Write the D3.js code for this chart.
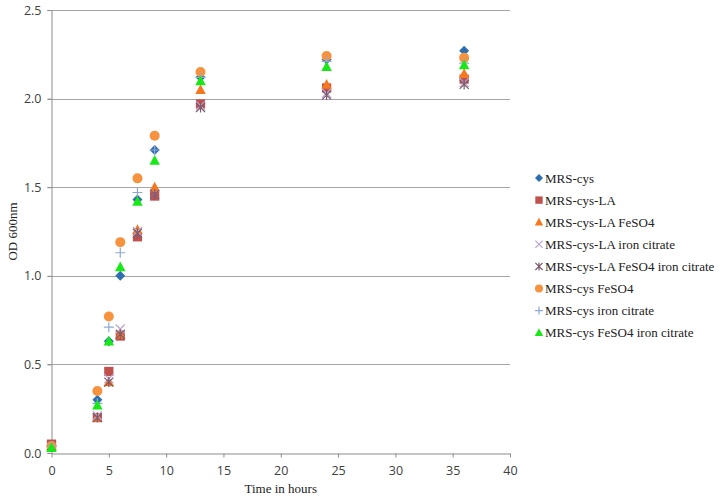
<!DOCTYPE html>
<html lang="en">
<head>
<meta charset="utf-8"/>
<script src="https://d3js.org/d3.v7.min.js"></script>
<style>
  body { margin: 0; background: #fff; }
</style>
</head>
<body>
<script>
    // Sampling times (hours)
    var hours = [0, 4, 5, 6, 7.5, 9, 13, 24, 36];

    // OD 600nm per medium
    var mrsCys              = [0.04, 0.30, 0.63, 1.00, 1.43, 1.71, 2.12, 2.22, 2.27];
    var mrsCysLA            = [0.05, 0.20, 0.46, 0.66, 1.22, 1.45, 1.97, 2.06, 2.11];
    var mrsCysLAFeSO4       = [0.04, 0.20, 0.40, 0.67, 1.26, 1.50, 2.05, 2.08, 2.14];
    var mrsCysLAIron        = [0.04, 0.21, 0.42, 0.70, 1.25, 1.46, 1.96, 2.03, 2.09];
    var mrsCysLAFeSO4Iron   = [0.04, 0.20, 0.40, 0.67, 1.24, 1.46, 1.95, 2.02, 2.08];
    var mrsCysFeSO4         = [0.04, 0.35, 0.77, 1.19, 1.55, 1.79, 2.15, 2.24, 2.23];
    var mrsCysIron          = [0.04, 0.28, 0.71, 1.13, 1.47, 1.71, 2.12, 2.21, 2.20];
    var mrsCysFeSO4Iron     = [0.03, 0.27, 0.63, 1.05, 1.42, 1.65, 2.10, 2.18, 2.19];

    var seriesNames = ["MRS-cys", "MRS-cys-LA", "MRS-cys-LA FeSO4", "MRS-cys-LA iron citrate",
        "MRS-cys-LA FeSO4 iron citrate", "MRS-cys FeSO4", "MRS-cys iron citrate", "MRS-cys FeSO4 iron citrate"];
    var seriesValues = [mrsCys, mrsCysLA, mrsCysLAFeSO4, mrsCysLAIron, mrsCysLAFeSO4Iron,
        mrsCysFeSO4, mrsCysIron, mrsCysFeSO4Iron];
    var seriesShapes = ["diamond", "square", "triangle", "x", "star", "circle", "plus", "triangle"];
    var seriesColors = ["#2f6fb0", "#c0504d", "#f5781e", "#b9a6d2", "#7d5a6e", "#f7923f", "#8ea9d4", "#18e818"];

    var xTicks = [0, 5, 10, 15, 20, 25, 30, 35, 40];
    var yTicks = [0, 0.5, 1.0, 1.5, 2.0, 2.5];

    var serif = "'Liberation Serif', 'Times New Roman', 'DejaVu Serif', serif";
    var sans = "'Open Sans', 'Noto Sans', sans-serif";

    var W = 722, H = 500;
    var margin = {top: 10, right: 212, bottom: 47, left: 51.5};

    var svg = d3.select("body").append("svg")
        .attr("width", W).attr("height", H);

    var x = d3.scaleLinear().domain([0, 40]).range([margin.left, W - margin.right]);
    var y = d3.scaleLinear().domain([0, 2.5]).range([H - margin.bottom, margin.top]);

    // gridlines
    svg.append("g").selectAll("line")
        .data(yTicks.filter(function(d) { return d > 0; }))
        .enter().append("line")
        .attr("x1", x(0) - 4).attr("x2", x(40))
        .attr("y1", function(d) { return Math.round(y(d)) + 0.5; })
        .attr("y2", function(d) { return Math.round(y(d)) + 0.5; })
        .style("stroke", "#a6a6a6");

    // y axis
    var yAxis = svg.append("g")
        .attr("transform", "translate(" + x(0) + ",0)")
        .call(d3.axisLeft(y).tickValues(yTicks).tickFormat(d3.format(".1f")).tickSize(4).tickPadding(6));
    yAxis.selectAll("path, line").style("stroke", "#8c8c8c");

    // x axis
    var xAxis = svg.append("g")
        .attr("transform", "translate(0," + (Math.round(y(0)) + 0.5) + ")")
        .call(d3.axisBottom(x).tickValues(xTicks).tickSize(4).tickSizeOuter(0).tickPadding(9));
    xAxis.selectAll("path, line").style("stroke", "#8c8c8c");

    svg.selectAll(".tick text")
        .style("font-family", sans).style("font-size", "12.5px").style("fill", "#404040");

    svg.append("text")
        .attr("x", (x(0) + x(40)) / 2).attr("y", 493)
        .attr("text-anchor", "middle")
        .style("font-family", serif).style("font-size", "13px").style("fill", "#222")
        .text("Time in hours");
    svg.append("text")
        .attr("transform", "translate(17," + (y(1.25)) + ") rotate(-90)")
        .attr("text-anchor", "middle")
        .style("font-family", serif).style("font-size", "13px").style("fill", "#222")
        .text("OD 600nm");

    // marker paths
    function marker(shape, s) {
        if (shape === "diamond") return "M0," + (-s) + "L" + s + ",0L0," + s + "L" + (-s) + ",0Z";
        if (shape === "square") return d3.symbol(d3.symbolSquare, 4 * s * s * 0.85)();
        if (shape === "triangle") return "M0," + (-s * 1.1) + "L" + (s * 1.05) + "," + (s * 0.85) + "L" + (-s * 1.05) + "," + (s * 0.85) + "Z";
        if (shape === "circle") return d3.symbol(d3.symbolCircle, Math.PI * s * s)();
        var k = s * 0.9;
        if (shape === "x") return "M" + (-k) + "," + (-k) + "L" + k + "," + k + "M" + (-k) + "," + k + "L" + k + "," + (-k);
        if (shape === "plus") return "M" + (-s) + ",0L" + s + ",0M0," + (-s) + "L0," + s;
        if (shape === "star") return "M" + (-k) + "," + (-k) + "L" + k + "," + k + "M" + (-k) + "," + k + "L" + k + "," + (-k) + "M0," + (-s) + "L0," + s;
    }
    function styleMarker(sel, i) {
        var open = ["x", "plus", "star"].indexOf(seriesShapes[i]) >= 0;
        sel.style("fill", open ? "none" : seriesColors[i])
            .style("stroke", open ? seriesColors[i] : "none")
            .style("stroke-width", open ? 1.2 : 0);
    }

    // points
    seriesValues.forEach(function(vals, i) {
        var g = svg.append("g");
        g.selectAll("path")
            .data(vals)
            .enter().append("path")
            .attr("d", marker(seriesShapes[i], 5))
            .attr("transform", function(d, j) { return "translate(" + x(hours[j]) + "," + y(d) + ")"; })
            .call(styleMarker, i);
    });

    // legend
    var legend = svg.append("g");
    seriesNames.forEach(function(name, i) {
        var ly = 178 + i * 22.1;
        legend.append("path")
            .attr("d", marker(seriesShapes[i], 4))
            .attr("transform", "translate(539," + ly + ")")
            .call(styleMarker, i);
        legend.append("text")
            .attr("x", 545).attr("y", ly + 4.5)
            .style("font-family", serif).style("font-size", "13px").style("fill", "#222")
            .text(name);
    });
</script>
</body>
</html>
